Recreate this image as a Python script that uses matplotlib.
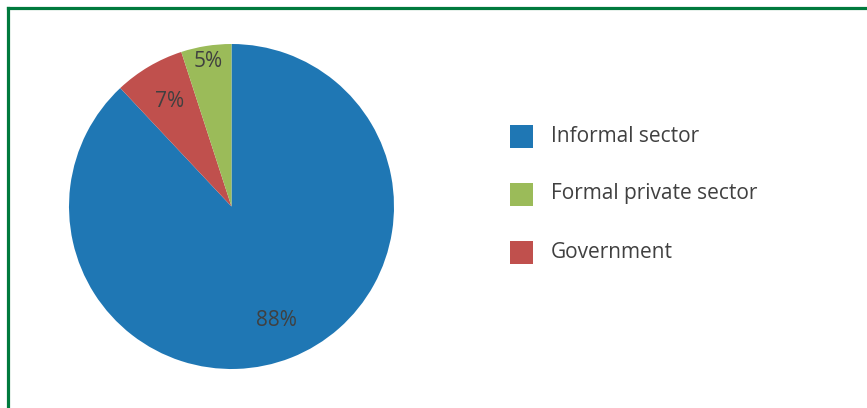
import matplotlib
matplotlib.use("Agg")
import numpy as np
import matplotlib.pyplot as plt
from matplotlib.patches import Rectangle
from matplotlib.lines import Line2D

# Data (legend order)
categories = ["Informal sector", "Formal private sector", "Government"]
shares = [88, 5, 7]
colors = ["#1f77b4", "#9bbb59", "#c0504d"]
# clockwise drawing order of the wedges, starting at 12 o'clock
draw_order = [0, 2, 1]
label_dist = [0.755, 0.75, 0.905]  # per drawn wedge

W, H = 867, 408
fig = plt.figure(figsize=(W / 100, H / 100), dpi=100)
plt.rcParams['font.family'] = ['Open Sans', 'DejaVu Sans']
text_color = "#404040"

cx, cy, r = 231.5, 206.5, 162.5
ax = fig.add_axes([(cx - r) / W, (H - cy - r) / H, 2 * r / W, 2 * r / H])
vals = [shares[i] for i in draw_order]
cols = [colors[i] for i in draw_order]
wedges, texts = ax.pie(
    vals, colors=cols, startangle=90, counterclock=False, radius=1,
    wedgeprops=dict(linewidth=0))
for w, v, d in zip(wedges, vals, label_dist):
    ang = np.deg2rad((w.theta1 + w.theta2) / 2)
    ax.text(d * np.cos(ang), d * np.sin(ang), f"{v}%", ha='center', va='center',
            color=text_color, fontsize=15)
ax.set_xlim(-1, 1)
ax.set_ylim(-1, 1)
ax.set_aspect('equal')
ax.axis('off')

# Legend (manual, figure pixel coords)
ys = [136, 194, 252]
for cat, col, y in zip(categories, colors, ys):
    fig.patches.append(Rectangle((510 / W, (H - y - 11.5) / H), 23 / W, 23 / H,
                                 transform=fig.transFigure, facecolor=col,
                                 edgecolor='none'))
    fig.text(551 / W, (H - y) / H, cat, color=text_color, fontsize=15,
             va='center', ha='left')

# Green frame
lw = 2.3
fig.add_artist(Line2D([7.5 / W, 7.5 / W], [0, (H - 7.5) / H], color="#007a3d",
                      lw=lw, transform=fig.transFigure, solid_capstyle='projecting'))
fig.add_artist(Line2D([7.5 / W, 1], [(H - 7.5) / H, (H - 7.5) / H], color="#007a3d",
                      lw=lw, transform=fig.transFigure, solid_capstyle='projecting'))

fig.savefig("out.png", dpi=100)
